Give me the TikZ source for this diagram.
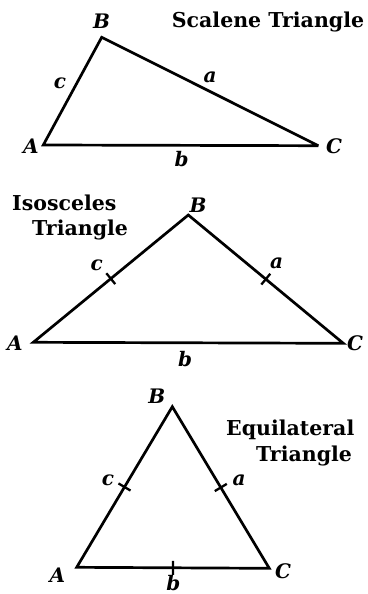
\documentclass[tikz,border=0pt]{standalone}
\usepackage{fontspec}
\setmainfont{DejaVu Serif}
\usetikzlibrary{calc}
\tikzset{
  side/.style={line width=2.7pt, line join=miter, miter limit=3},
  tickmark/.style={line width=2.3pt},
  lab/.style={font=\fontsize{20}{20}\selectfont\bfseries\itshape, inner sep=0pt},
  ttl/.style={font=\fontsize{20.5}{20.5}\selectfont\bfseries, inner sep=0pt},
}
\begin{document}
\begin{tikzpicture}[x=1pt,y=-1pt]
\useasboundingbox (0,0) rectangle (367,594);
% Scalene
\coordinate (sA) at (43.3,145);
\coordinate (sB) at (101.7,37.3);
\coordinate (sC) at (318.3,145.7);
\draw[side] (sA) -- (sB) -- (sC) -- cycle;
\node[lab] (sAl) at (31,146.7) {A};
\node[lab] (sBl) at (101.7,21.7) {B};
\node[lab] (sCl) at (334,146.7) {C};
\node[lab] (sal) at (210,77) {a};
\node[lab] (sbl) at (181.7,159) {b};
\node[lab] (scl) at (60,83) {c};
\node[ttl, anchor=base west] (stt) at (171.7,28) {Scalene Triangle};
% Isosceles
\coordinate (iA) at (33.3,342.3);
\coordinate (iB) at (188.3,215);
\coordinate (iC) at (343.3,343.3);
\draw[side] (iA) -- (iB) -- (iC) -- cycle;
\coordinate (iab) at ($(iA)!0.5!(iB)$);
\coordinate (ibc) at ($(iB)!0.5!(iC)$);
\draw[tickmark] ($(iab)!7pt!90:(iB)$) -- ($(iab)!7pt!-90:(iB)$);
\draw[tickmark] ($(ibc)!7pt!90:(iC)$) -- ($(ibc)!7pt!-90:(iC)$);
\node[lab] (iAl) at (15,343) {A};
\node[lab] (iBl) at (198,205) {B};
\node[lab] (iCl) at (355,343) {C};
\node[lab] (ial) at (276.7,263.3) {a};
\node[lab] (ibl) at (185,359) {b};
\node[lab] (icl) at (96.7,265) {c};
\node[ttl, anchor=base west] (itt1) at (12,210) {Isosceles};
\node[ttl, anchor=base west] (itt2) at (32,235) {Triangle};
% Equilateral
\coordinate (eA) at (76.7,567.3);
\coordinate (eB) at (172.3,406.7);
\coordinate (eC) at (269.3,568.3);
\draw[side] (eA) -- (eB) -- (eC) -- cycle;
\coordinate (eab) at ($(eA)!0.5!(eB)$);
\coordinate (ebc) at ($(eB)!0.5!(eC)$);
\coordinate (eca) at ($(eC)!0.5!(eA)$);
\draw[tickmark] ($(eab)!7pt!90:(eB)$) -- ($(eab)!7pt!-90:(eB)$);
\draw[tickmark] ($(ebc)!7pt!90:(eC)$) -- ($(ebc)!7pt!-90:(eC)$);
\draw[tickmark] ($(eca)!7pt!90:(eA)$) -- ($(eca)!7pt!-90:(eA)$);
\node[lab] (eAl) at (57.3,575) {A};
\node[lab] (eBl) at (156.7,396.7) {B};
\node[lab] (eCl) at (283,571.7) {C};
\node[lab] (eal) at (239,480) {a};
\node[lab, anchor=base] (ebl) at (173.3,590) {b};
\node[lab] (ecl) at (108,480) {c};
\node[ttl, anchor=base west] (ett1) at (226,435) {Equilateral};
\node[ttl, anchor=base west] (ett2) at (256,461.7) {Triangle};
\end{tikzpicture}
\end{document}
